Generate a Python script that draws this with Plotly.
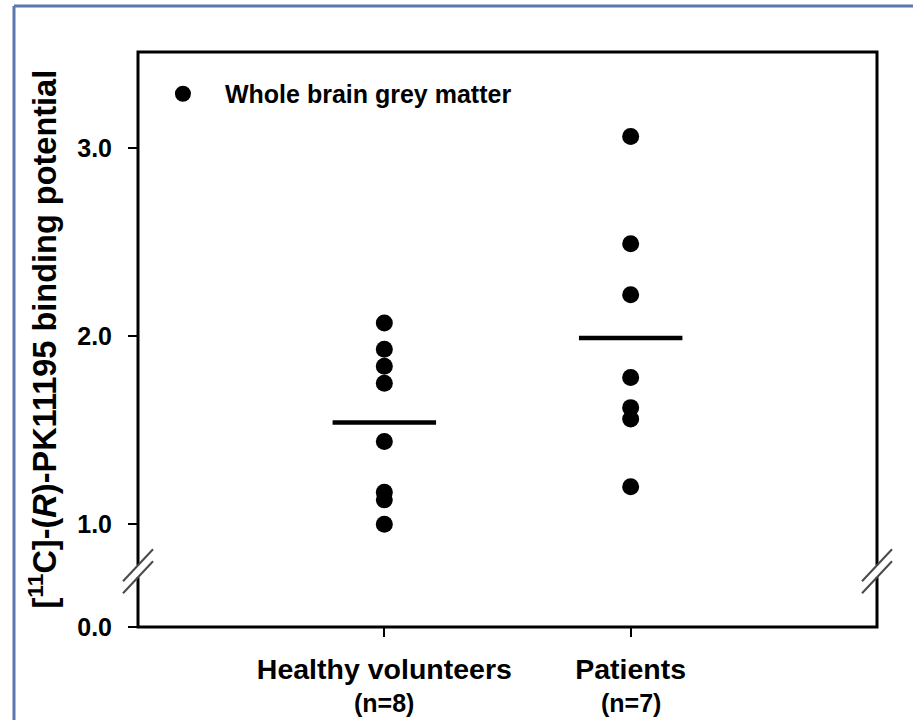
import numpy as np
import plotly.graph_objects as go

# ---- data ----
groups = ["Healthy volunteers", "Patients"]
group_n = ["(n=8)", "(n=7)"]
healthy = [2.07, 1.93, 1.84, 1.75, 1.44, 1.17, 1.13, 1.00]
patients = [3.06, 2.49, 2.22, 1.78, 1.62, 1.56, 1.20]
series_name = "Whole brain grey matter"
y_ticks_low = [0.0]
y_ticks_high = [1.0, 2.0, 3.0]

FONT = "Liberation Sans, Arial, Helvetica, sans-serif"
W, H = 913, 720
L, R, T, B = 138, 36, 52, 93
BREAK = 0.097  # fraction of plot height where axis is broken

x_pos = [1, 2]
xs = [x_pos[0]] * len(healthy) + [x_pos[1]] * len(patients)
ys = healthy + patients

fig = go.Figure()
# empty trace to register the lower (0.0) axis segment
fig.add_trace(go.Scatter(x=[], y=[], xaxis="x", yaxis="y", showlegend=False, hoverinfo="skip"))
fig.add_trace(go.Scatter(
    x=xs, y=ys, mode="markers", name=series_name, xaxis="x", yaxis="y2",
    marker=dict(color="black", size=17, line=dict(width=0)),
    showlegend=True,
))
for xp, vals in zip(x_pos, [healthy, patients]):
    m = float(np.mean(vals))
    fig.add_trace(go.Scatter(
        x=[xp - 0.21, xp + 0.21], y=[m, m], mode="lines", xaxis="x", yaxis="y2",
        line=dict(color="black", width=4.5), showlegend=False, hoverinfo="skip",
    ))

tickfont = dict(family=FONT, size=25, color="black", weight="bold")

fig.update_layout(
    width=W, height=H,
    margin=dict(l=L, r=R, t=T, b=B, pad=0),
    paper_bgcolor="white", plot_bgcolor="white",
    font=dict(family=FONT, color="black"),
    xaxis=dict(range=[0, 3], tickvals=x_pos, ticktext=groups, anchor="y",
               showgrid=False, zeroline=False, showline=False,
               ticks="outside", ticklen=9, tickwidth=2, tickcolor="black",
               tickfont=dict(family=FONT, size=28.5, color="black", weight="bold"),
               ticklabelstandoff=8),
    yaxis=dict(domain=[0, BREAK], range=[0, 0.292], tickvals=y_ticks_low,
               ticktext=[f"{v:.1f}" for v in y_ticks_low], anchor="x",
               showgrid=False, zeroline=False, showline=False,
               ticks="outside", ticklen=9, tickwidth=2, tickcolor="black",
               tickfont=tickfont, ticklabelstandoff=11),
    yaxis2=dict(domain=[BREAK, 1], range=[0.751, 3.509], tickvals=y_ticks_high,
                ticktext=[f"{v:.1f}" for v in y_ticks_high], anchor="x",
                showgrid=False, zeroline=False, showline=False,
                ticks="outside", ticklen=9, tickwidth=2, tickcolor="black",
                tickfont=tickfont, ticklabelstandoff=11),
    legend=dict(x=0.004, y=0.967, xanchor="left", yanchor="top",
                bgcolor="rgba(0,0,0,0)", itemwidth=74,
                font=dict(family=FONT, size=25, color="black", weight="bold")),
    showlegend=True,
)

shapes = []
# frame
shapes.append(dict(type="rect", xref="paper", yref="paper", x0=0, x1=1, y0=0, y1=1,
                   line=dict(color="black", width=3), fillcolor="rgba(0,0,0,0)", layer="above"))
# axis breaks on left and right sides
for xa in [0, 1]:
    shapes.append(dict(type="rect", xref="paper", yref="paper", xsizemode="pixel", ysizemode="pixel",
                       xanchor=xa, yanchor=BREAK, x0=-3, x1=3, y0=-6, y1=6,
                       fillcolor="white", line=dict(width=0), layer="above"))
    for off in [6, -6]:
        shapes.append(dict(type="line", xref="paper", yref="paper", xsizemode="pixel", ysizemode="pixel",
                           xanchor=xa, yanchor=BREAK, x0=-15, x1=15, y0=off - 16, y1=off + 16,
                           line=dict(color="#4a4a4a", width=2), layer="above"))
# blue panel border (top and left edges)
BX, BY = 14, 6
shapes.append(dict(type="line", xref="paper", yref="paper", xsizemode="pixel", ysizemode="pixel",
                   xanchor=0, yanchor=1, x0=BX - L, x1=W - L, y0=T - BY, y1=T - BY,
                   line=dict(color="#5b77ad", width=3), layer="above"))
shapes.append(dict(type="line", xref="paper", yref="paper", xsizemode="pixel", ysizemode="pixel",
                   xanchor=0, yanchor=1, x0=BX - L, x1=BX - L, y0=T - BY, y1=-(H - T),
                   line=dict(color="#5b77ad", width=3), layer="above"))
fig.update_layout(shapes=shapes)

# group sizes below the category labels
for xp, n in zip(x_pos, group_n):
    fig.add_annotation(text=f"<b>{n}</b>", x=xp, xref="x", y=0, yref="paper",
                       yanchor="middle", yshift=-76, showarrow=False,
                       font=dict(family=FONT, size=25, color="black"))

fig.add_annotation(
    text="<b>[<sup>11</sup>C]-(<i>R</i>)-PK11195 binding potential</b>",
    xref="paper", yref="paper", x=0, y=0.5, xanchor="center", yanchor="middle",
    xshift=-96, textangle=-90, showarrow=False,
    font=dict(family=FONT, size=32.5, color="black"),
)

fig.write_html("out.html", config={"displayModeBar": False},
               post_script="document.body.style.margin='0';")
